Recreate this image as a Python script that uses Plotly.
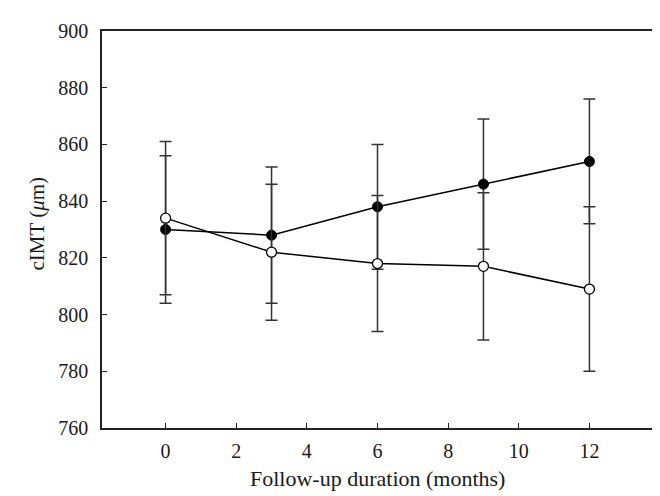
import plotly.graph_objects as go

months = [0, 3, 6, 9, 12]
filled_mean = [830, 828, 838, 846, 854]
filled_err = [26, 24, 22, 23, 22]
open_mean = [834, 822, 818, 817, 809]
open_err = [27, 24, 24, 26, 29]
x_ticks = [0, 2, 4, 6, 8, 10, 12]
y_ticks = [760, 780, 800, 820, 840, 860, 880, 900]

FONT = "Liberation Serif"
fig = go.Figure()

fig.add_trace(go.Scatter(
    x=months, y=filled_mean, mode="lines+markers",
    line=dict(color="black", width=1.5),
    marker=dict(size=10, color="black", line=dict(color="black", width=1)),
    error_y=dict(type="data", array=filled_err, visible=True,
                 color="#333333", thickness=1.5, width=6),
    showlegend=False,
))
fig.add_trace(go.Scatter(
    x=months, y=open_mean, mode="lines+markers",
    line=dict(color="black", width=1.5),
    marker=dict(size=10, color="white", line=dict(color="black", width=1.3)),
    error_y=dict(type="data", array=open_err, visible=True,
                 color="#333333", thickness=1.5, width=6),
    showlegend=False,
))

fig.update_layout(
    width=660, height=496, autosize=False,
    margin=dict(l=94, r=15, t=23, b=76),
    paper_bgcolor="white", plot_bgcolor="white",
    font=dict(family=FONT, size=20, color="#1a1a1a"),
    xaxis=dict(
        range=[-1.8, 13.8], tickvals=x_ticks, ticktext=[str(v) for v in x_ticks],
        ticks="inside", ticklen=5, tickwidth=1.3, tickcolor="#222222",
        showline=True, linecolor="#222222", linewidth=1.5, mirror=True,
        showgrid=False, zeroline=False,
        tickfont=dict(size=20),
        ticklabelstandoff=4,
    ),
    yaxis=dict(
        range=[760, 900], tickvals=y_ticks, ticktext=[str(v) for v in y_ticks],
        ticks="inside", ticklen=5, tickwidth=1.3, tickcolor="#222222",
        showline=True, linecolor="#222222", linewidth=1.5, mirror=True,
        showgrid=False, zeroline=False,
        tickfont=dict(size=20),
        ticklabelstandoff=8,
    ),
    annotations=[
        dict(
            text="cIMT (<i>μ</i>m)", textangle=-90, showarrow=False,
            xref="paper", yref="paper", x=-0.118, y=0.515,
            xanchor="center", yanchor="middle",
            font=dict(family=FONT, size=21, color="#1a1a1a"),
        ),
        dict(
            text="Follow-up duration (months)", showarrow=False,
            xref="paper", yref="paper", x=0.5, y=-0.126,
            xanchor="center", yanchor="middle",
            font=dict(family=FONT, size=22, color="#1a1a1a"),
        ),
    ],
)

fig.write_html("out.html")
